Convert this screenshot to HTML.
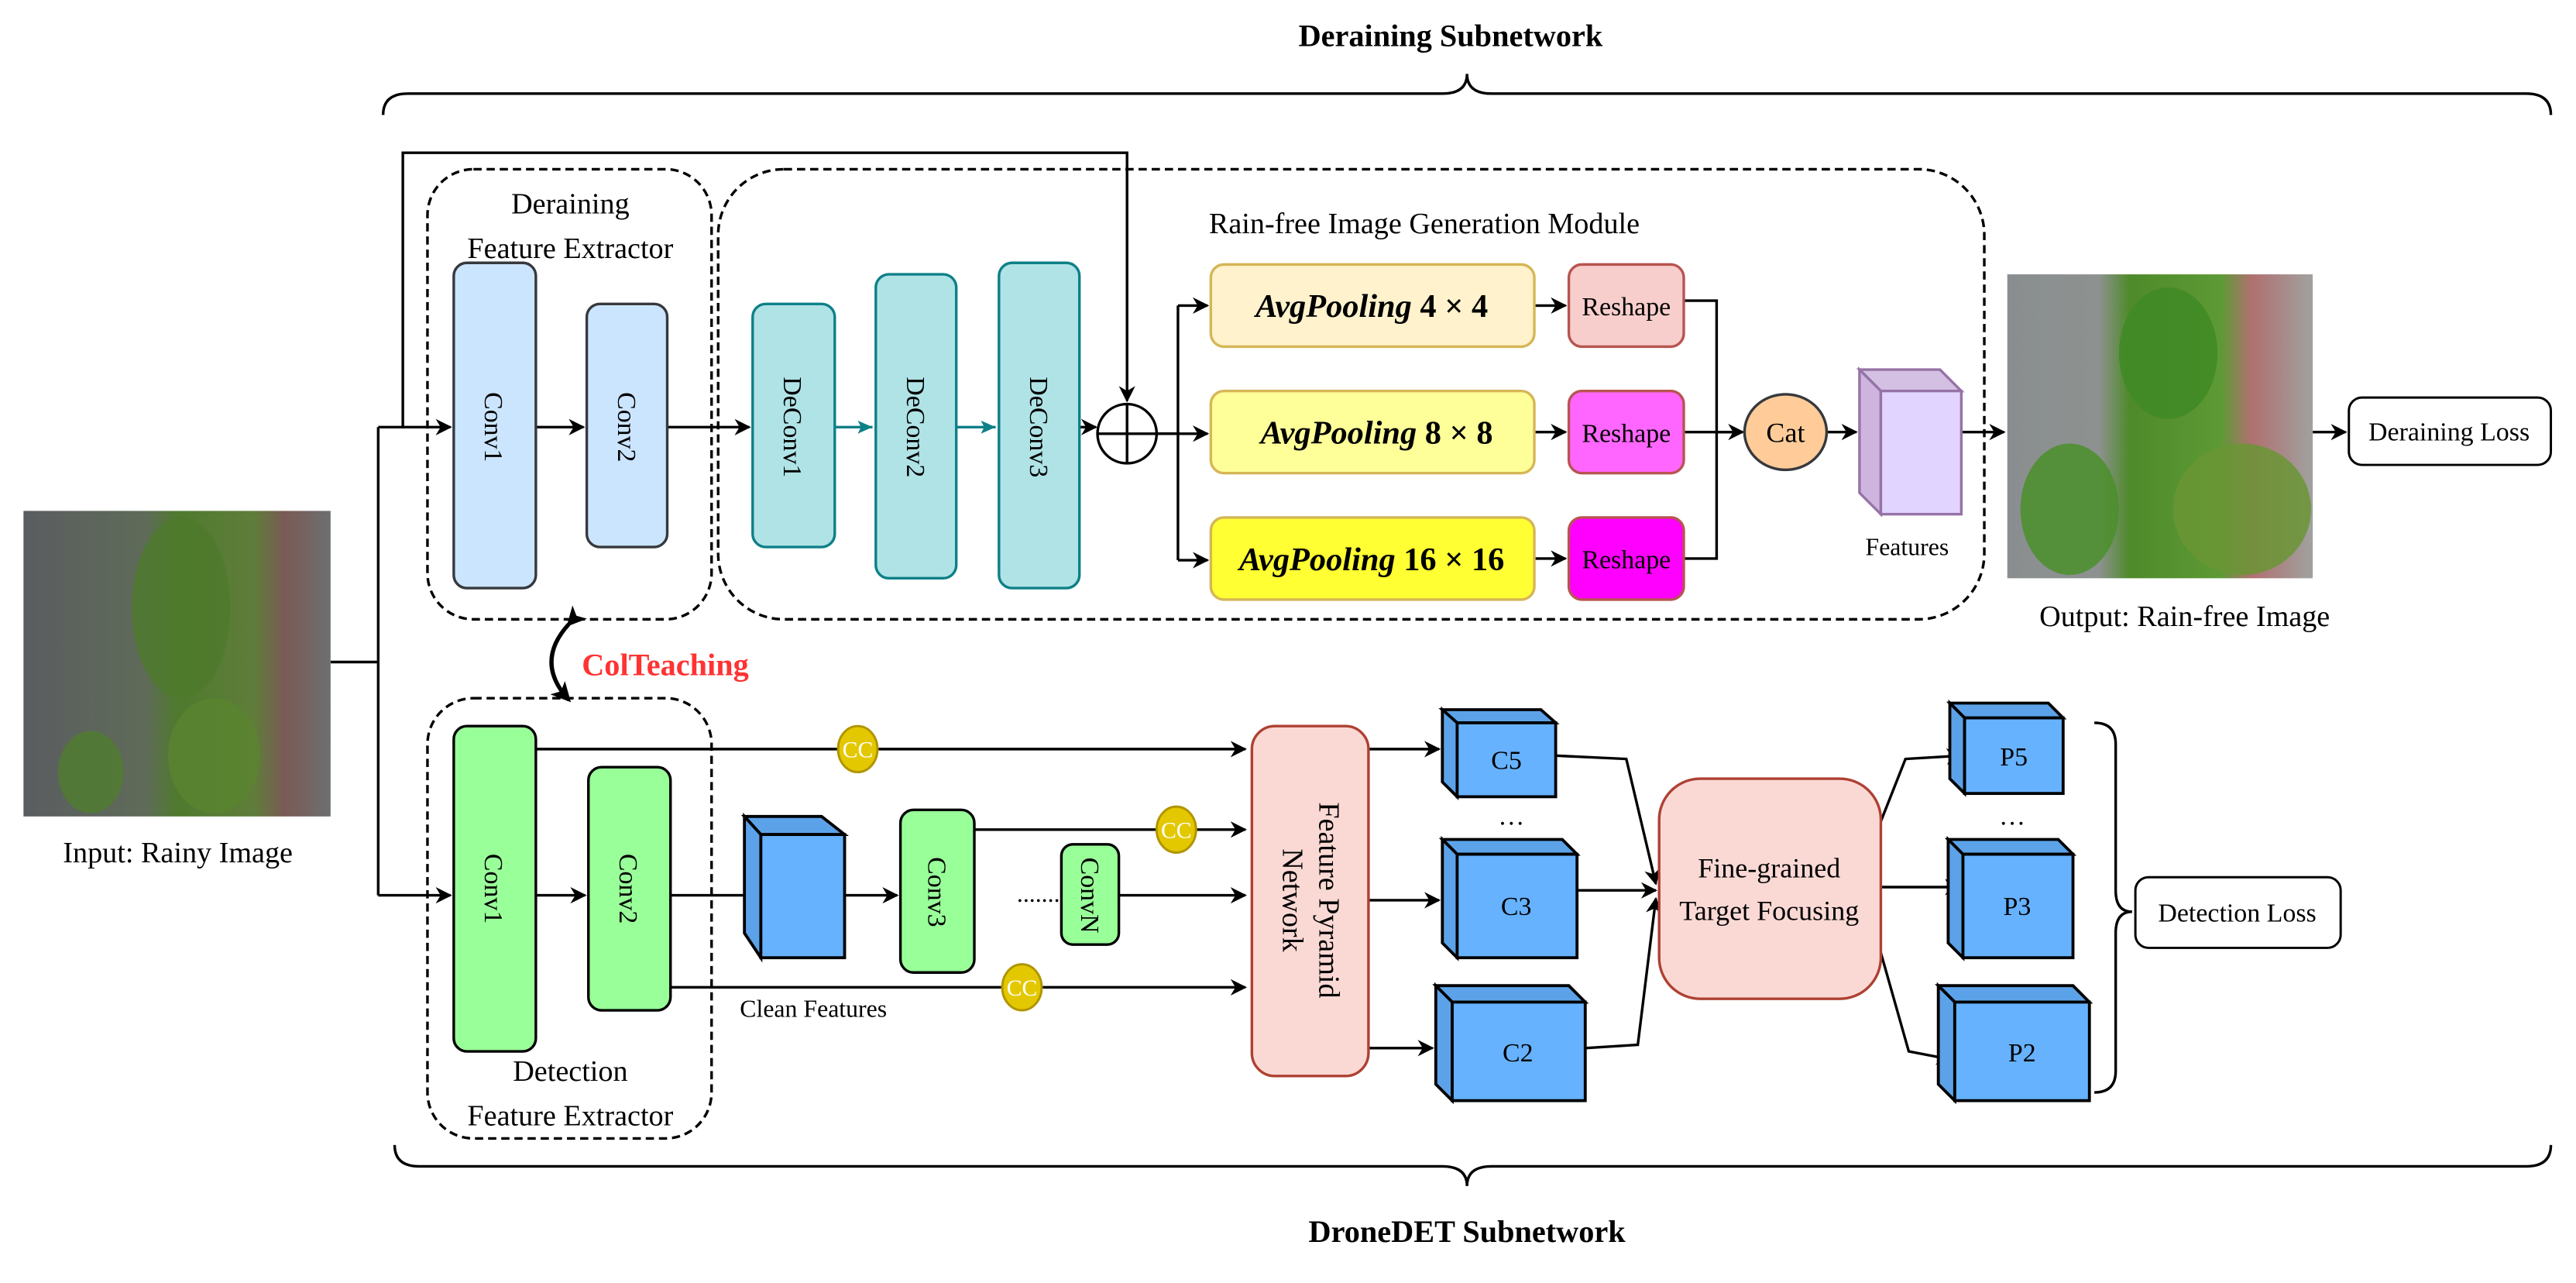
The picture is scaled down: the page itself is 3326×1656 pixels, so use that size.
<!DOCTYPE html>
<html><head><meta charset="utf-8"><style>html,body{margin:0;padding:0;background:#fff}svg{display:block}</style></head>
<body>
<svg width="3326" height="1656" viewBox="0 0 1568 781" xmlns="http://www.w3.org/2000/svg" font-family="Liberation Serif, serif">
<defs>
<marker id="a" markerWidth="10" markerHeight="10" refX="9" refY="5" orient="auto" markerUnits="userSpaceOnUse"><path d="M0,0 L10,5 L0,10 L3,5 Z" fill="#000"/></marker>
<marker id="t" markerWidth="10" markerHeight="10" refX="9" refY="5" orient="auto" markerUnits="userSpaceOnUse"><path d="M0,1 L9,5 L0,9 L2,5 Z" fill="#0e8088"/></marker>
<marker id="d" markerWidth="12" markerHeight="12" refX="10" refY="6" orient="auto" markerUnits="userSpaceOnUse"><path d="M0,0 L12,6 L0,12 L3,6 Z" fill="#000"/></marker>
<linearGradient id="g1" x1="0" y1="0" x2="1" y2="0"><stop offset="0" stop-color="#5a5d60"/><stop offset="0.4" stop-color="#5f6b58"/><stop offset="0.5" stop-color="#4f7a2e"/><stop offset="0.75" stop-color="#5f7d3a"/><stop offset="0.85" stop-color="#7a5a55"/><stop offset="1" stop-color="#6d6f70"/></linearGradient>
<linearGradient id="g2" x1="0" y1="0" x2="1" y2="0"><stop offset="0" stop-color="#8a8e90"/><stop offset="0.3" stop-color="#8d9290"/><stop offset="0.4" stop-color="#4f8a2a"/><stop offset="0.7" stop-color="#5d9a35"/><stop offset="0.8" stop-color="#b07070"/><stop offset="1" stop-color="#a0a2a0"/></linearGradient>
</defs>
<g fill="none" stroke="#000" stroke-width="1.6">
<path d="M233,70 Q233,57 248,57 L878,57 Q893,57 893,45 Q893,57 908,57 L1538,57 Q1553,57 1553,70"/>
<path d="M240,697 Q240,710 255,710 L878,710 Q893,710 893,722 Q893,710 908,710 L1538,710 Q1553,710 1553,697"/>
<path d="M1275,440 Q1288,440 1288,453 L1288,542 Q1288,555 1298,555 Q1288,555 1288,568 L1288,652 Q1288,665 1275,665"/>
<rect x="260" y="103" width="173" height="274" rx="28" stroke-dasharray="5,3"/>
<rect x="437" y="103" width="771" height="274" rx="40" stroke-dasharray="5,3"/>
<rect x="260" y="425" width="173" height="268" rx="28" stroke-dasharray="5,3"/>
<path d="M201,403 L230,403 M230,260 L230,545"/>
<path d="M230,260 L274,260" marker-end="url(#a)"/>
<path d="M230,545 L274,545" marker-end="url(#a)"/>
<path d="M245,260 L245,93 L686,93 L686,244" marker-end="url(#a)"/>
<path d="M326,260 L355,260" marker-end="url(#a)"/>
<path d="M406,260 L456,260" marker-end="url(#a)"/>
<path d="M657,260 L667,260" marker-end="url(#a)"/>
<path d="M704,264 L717,264 M717,186 L717,341"/>
<path d="M717,186 L735,186" marker-end="url(#a)"/>
<path d="M704,264 L735,264" marker-end="url(#a)"/>
<path d="M717,341 L735,341" marker-end="url(#a)"/>
<path d="M934,186 L953,186" marker-end="url(#a)"/>
<path d="M934,263 L953,263" marker-end="url(#a)"/>
<path d="M934,340 L953,340" marker-end="url(#a)"/>
<path d="M1025,183 L1045,183 L1045,340 L1025,340 M1025,263 L1060,263" />
<path d="M1045,263 L1061,263" marker-end="url(#a)"/>
<path d="M1112,263 L1130,263" marker-end="url(#a)"/>
<path d="M1194,263 L1220,263" marker-end="url(#a)"/>
<path d="M1408,263 L1428,263" marker-end="url(#a)"/>
<path d="M326,545 L356,545" marker-end="url(#a)"/>
<path d="M408,545 L453,545"/>
<path d="M514,545 L546,545" marker-end="url(#a)"/>
<path d="M326,456 L758,456" marker-end="url(#a)"/>
<path d="M593,505 L758,505" marker-end="url(#a)"/>
<path d="M681,545 L758,545" marker-end="url(#a)"/>
<path d="M408,601 L758,601" marker-end="url(#a)"/>
<path d="M833,456 L876,456" marker-end="url(#a)"/>
<path d="M833,548 L876,548" marker-end="url(#a)"/>
<path d="M833,638 L872,638" marker-end="url(#a)"/>
<path d="M947,460 L990,462 L1008,538" marker-end="url(#a)"/>
<path d="M960,542 L1008,542" marker-end="url(#a)"/>
<path d="M965,638 L997,636 L1008,547" marker-end="url(#a)"/>
<path d="M1145,500 L1160,462 L1194,460" marker-end="url(#a)"/>
<path d="M1145,540 L1193,540" marker-end="url(#a)"/>
<path d="M1145,580 L1162,640 L1188,645" marker-end="url(#a)"/>
<path d="M346,380 Q325,403 346,426" stroke-width="2.5" marker-start="url(#d)" marker-end="url(#d)"/>
</g>
<g font-size="18" text-anchor="middle">
<text x="883" y="28" font-weight="bold" font-size="19">Deraining Subnetwork</text>
<text x="893" y="756" font-weight="bold" font-size="19">DroneDET Subnetwork</text>
<text x="347" y="130">Deraining</text>
<text x="347" y="157">Feature Extractor</text>
<text x="347" y="658">Detection</text>
<text x="347" y="685">Feature Extractor</text>
<text x="867" y="142">Rain-free Image Generation Module</text>
<text x="108" y="525">Input: Rainy Image</text>
<text x="1330" y="381">Output: Rain-free Image</text>
<text x="354" y="411" fill="#ff3333" font-weight="bold" font-size="19" text-anchor="start">ColTeaching</text>
<text x="495" y="619" font-size="15">Clean Features</text>
<text x="1161" y="338" font-size="15">Features</text>
<text x="632" y="549" font-size="15">.......</text>
<text x="920" y="502" font-size="16">…</text>
<text x="1225" y="502" font-size="16">…</text>
</g>
<rect x="14" y="311" width="187" height="186" fill="url(#g1)"/>
<ellipse cx="110" cy="370" rx="30" ry="55" fill="#4e7a2c" opacity="0.8"/>
<ellipse cx="130" cy="460" rx="28" ry="35" fill="#5a8530" opacity="0.8"/>
<ellipse cx="55" cy="470" rx="20" ry="25" fill="#507d2e" opacity="0.8"/>
<rect x="1222" y="167" width="186" height="185" fill="url(#g2)"/>
<ellipse cx="1320" cy="215" rx="30" ry="40" fill="#3f8a25" opacity="0.85"/>
<ellipse cx="1260" cy="310" rx="30" ry="40" fill="#4a8f2a" opacity="0.85"/>
<ellipse cx="1365" cy="310" rx="42" ry="40" fill="#6a9535" opacity="0.85"/>
<g stroke="#36393d" stroke-width="1.6" fill="#cce5ff">
<rect x="276" y="160" width="50" height="198" rx="8"/>
<rect x="357" y="185" width="49" height="148" rx="8"/>
</g>
<g stroke="#0e8088" stroke-width="1.6" fill="#b0e3e6">
<rect x="458" y="185" width="50" height="148" rx="8"/>
<rect x="533" y="167" width="49" height="185" rx="8"/>
<rect x="608" y="160" width="49" height="198" rx="8"/>
</g>
<g stroke="#0e8088" stroke-width="1.6" fill="none">
<path d="M508,260 L531,260" marker-end="url(#t)"/>
<path d="M582,260 L606,260" marker-end="url(#t)"/>
</g>
<circle cx="686" cy="264" r="18" fill="#fff" stroke="#000" stroke-width="1.6"/>
<path d="M668,264 L704,264 M686,246 L686,282" stroke="#000" stroke-width="1.6"/>
<g stroke="#d6b656" stroke-width="1.6">
<rect x="737" y="161" width="197" height="50" rx="8" fill="#fff2cc"/>
<rect x="737" y="238" width="197" height="50" rx="8" fill="#ffff99"/>
<rect x="737" y="315" width="197" height="50" rx="8" fill="#ffff33"/>
</g>
<g stroke="#b85450" stroke-width="1.6">
<rect x="955" y="161" width="70" height="50" rx="8" fill="#f8cecc"/>
<rect x="955" y="238" width="70" height="50" rx="8" fill="#ff66ff"/>
<rect x="955" y="315" width="70" height="50" rx="8" fill="#ff00ff"/>
</g>
<g font-size="20" text-anchor="middle">
<text x="835" y="193"><tspan font-weight="bold" font-style="italic">AvgPooling</tspan><tspan font-weight="bold"> 4 × 4</tspan></text>
<text x="838" y="270"><tspan font-weight="bold" font-style="italic">AvgPooling</tspan><tspan font-weight="bold"> 8 × 8</tspan></text>
<text x="835" y="347"><tspan font-weight="bold" font-style="italic">AvgPooling</tspan><tspan font-weight="bold"> 16 × 16</tspan></text>
</g>
<g font-size="16" text-anchor="middle">
<text x="990" y="192">Reshape</text>
<text x="990" y="269">Reshape</text>
<text x="990" y="346">Reshape</text>
</g>
<ellipse cx="1087" cy="263" rx="25" ry="23" fill="#ffcc99" stroke="#36393d" stroke-width="1.6"/>
<text x="1087" y="269" font-size="17" text-anchor="middle">Cat</text>
<g stroke="#9673a6" stroke-width="1.6">
<path d="M1132,225 L1181,225 L1194,238 L1145,238 Z" fill="#d4c0e2"/>
<path d="M1132,225 L1145,238 L1145,313 L1132,300 Z" fill="#cdb5e0"/>
<rect x="1145" y="238" width="49" height="75" fill="#e1d5ff"/>
</g>
<rect x="1430" y="242" width="123" height="41" rx="8" fill="#fff" stroke="#000" stroke-width="1.4"/>
<text x="1491" y="268" font-size="16" text-anchor="middle">Deraining Loss</text>
<rect x="1300" y="534" width="125" height="43" rx="8" fill="#fff" stroke="#000" stroke-width="1.4"/>
<text x="1362" y="561" font-size="16" text-anchor="middle">Detection Loss</text>
<g stroke="#000" stroke-width="1.6" fill="#99ff99">
<rect x="276" y="442" width="50" height="198" rx="8"/>
<rect x="358" y="467" width="50" height="148" rx="8"/>
<rect x="548" y="493" width="45" height="99" rx="8"/>
<rect x="646" y="514" width="35" height="61" rx="7"/>
</g>
<g stroke="#000" stroke-width="1.8">
<path d="M453,497 L500,497 L514,508 L463,508 Z" fill="#5ca2e8"/><path d="M453,497 L463,508 L463,583 L453,568 Z" fill="#5ca2e8"/><rect x="463" y="508" width="51" height="75" fill="#66b2ff"/>
<path d="M878,432 L938,432 L947,440 L887,440 Z" fill="#5ca2e8"/><path d="M878,432 L887,440 L887,485 L878,476 Z" fill="#5ca2e8"/><rect x="887" y="440" width="60" height="45" fill="#66b2ff"/>
<path d="M878,511 L951,511 L960,520 L887,520 Z" fill="#5ca2e8"/><path d="M878,511 L887,520 L887,583 L878,574 Z" fill="#5ca2e8"/><rect x="887" y="520" width="73" height="63" fill="#66b2ff"/>
<path d="M874,600 L955,600 L965,610 L884,610 Z" fill="#5ca2e8"/><path d="M874,600 L884,610 L884,670 L874,660 Z" fill="#5ca2e8"/><rect x="884" y="610" width="81" height="60" fill="#66b2ff"/>
<path d="M1187,428 L1247,428 L1256,437 L1196,437 Z" fill="#5ca2e8"/><path d="M1187,428 L1196,437 L1196,483 L1187,474 Z" fill="#5ca2e8"/><rect x="1196" y="437" width="60" height="46" fill="#66b2ff"/>
<path d="M1186,511 L1253,511 L1262,520 L1195,520 Z" fill="#5ca2e8"/><path d="M1186,511 L1195,520 L1195,583 L1186,574 Z" fill="#5ca2e8"/><rect x="1195" y="520" width="67" height="63" fill="#66b2ff"/>
<path d="M1180,600 L1262,600 L1272,610 L1190,610 Z" fill="#5ca2e8"/><path d="M1180,600 L1190,610 L1190,670 L1180,660 Z" fill="#5ca2e8"/><rect x="1190" y="610" width="82" height="60" fill="#66b2ff"/>
</g>
<g font-size="16" text-anchor="middle">
<text x="917" y="468">C5</text><text x="923" y="557">C3</text><text x="924" y="646">C2</text>
<text x="1226" y="466">P5</text><text x="1228" y="557">P3</text><text x="1231" y="646">P2</text>
</g>
<rect x="762" y="442" width="71" height="213" rx="14" fill="#fad9d5" stroke="#ae4132" stroke-width="1.6"/>
<g font-size="18" text-anchor="middle">
<text transform="translate(803,548) rotate(90)">Feature Pyramid</text>
<text transform="translate(781,548) rotate(90)">Network</text>
</g>
<rect x="1010" y="474" width="135" height="134" rx="25" fill="#fad9d5" stroke="#ae4132" stroke-width="1.6"/>
<text x="1077" y="534" font-size="17" text-anchor="middle">Fine-grained</text>
<text x="1077" y="560" font-size="17" text-anchor="middle">Target Focusing</text>
<g font-size="16" text-anchor="middle">
<text transform="translate(295,260) rotate(90)">Conv1</text>
<text transform="translate(376,260) rotate(90)">Conv2</text>
<text transform="translate(477,260) rotate(90)">DeConv1</text>
<text transform="translate(552,260) rotate(90)">DeConv2</text>
<text transform="translate(627,260) rotate(90)">DeConv3</text>
<text transform="translate(295,541) rotate(90)">Conv1</text>
<text transform="translate(377,541) rotate(90)">Conv2</text>
<text transform="translate(565,543) rotate(90)">Conv3</text>
<text transform="translate(658,545) rotate(90)">ConvN</text>
</g>
<g stroke="#b09500" stroke-width="1.4" fill="#e3c800">
<ellipse cx="522" cy="456" rx="12" ry="14"/>
<ellipse cx="716" cy="505" rx="12" ry="14"/>
<ellipse cx="622" cy="601" rx="12" ry="14"/>
</g>
<g font-size="14" fill="#fff" text-anchor="middle">
<text x="522" y="461">CC</text><text x="716" y="510">CC</text><text x="622" y="606">CC</text>
</g>
</svg>
</body></html>
